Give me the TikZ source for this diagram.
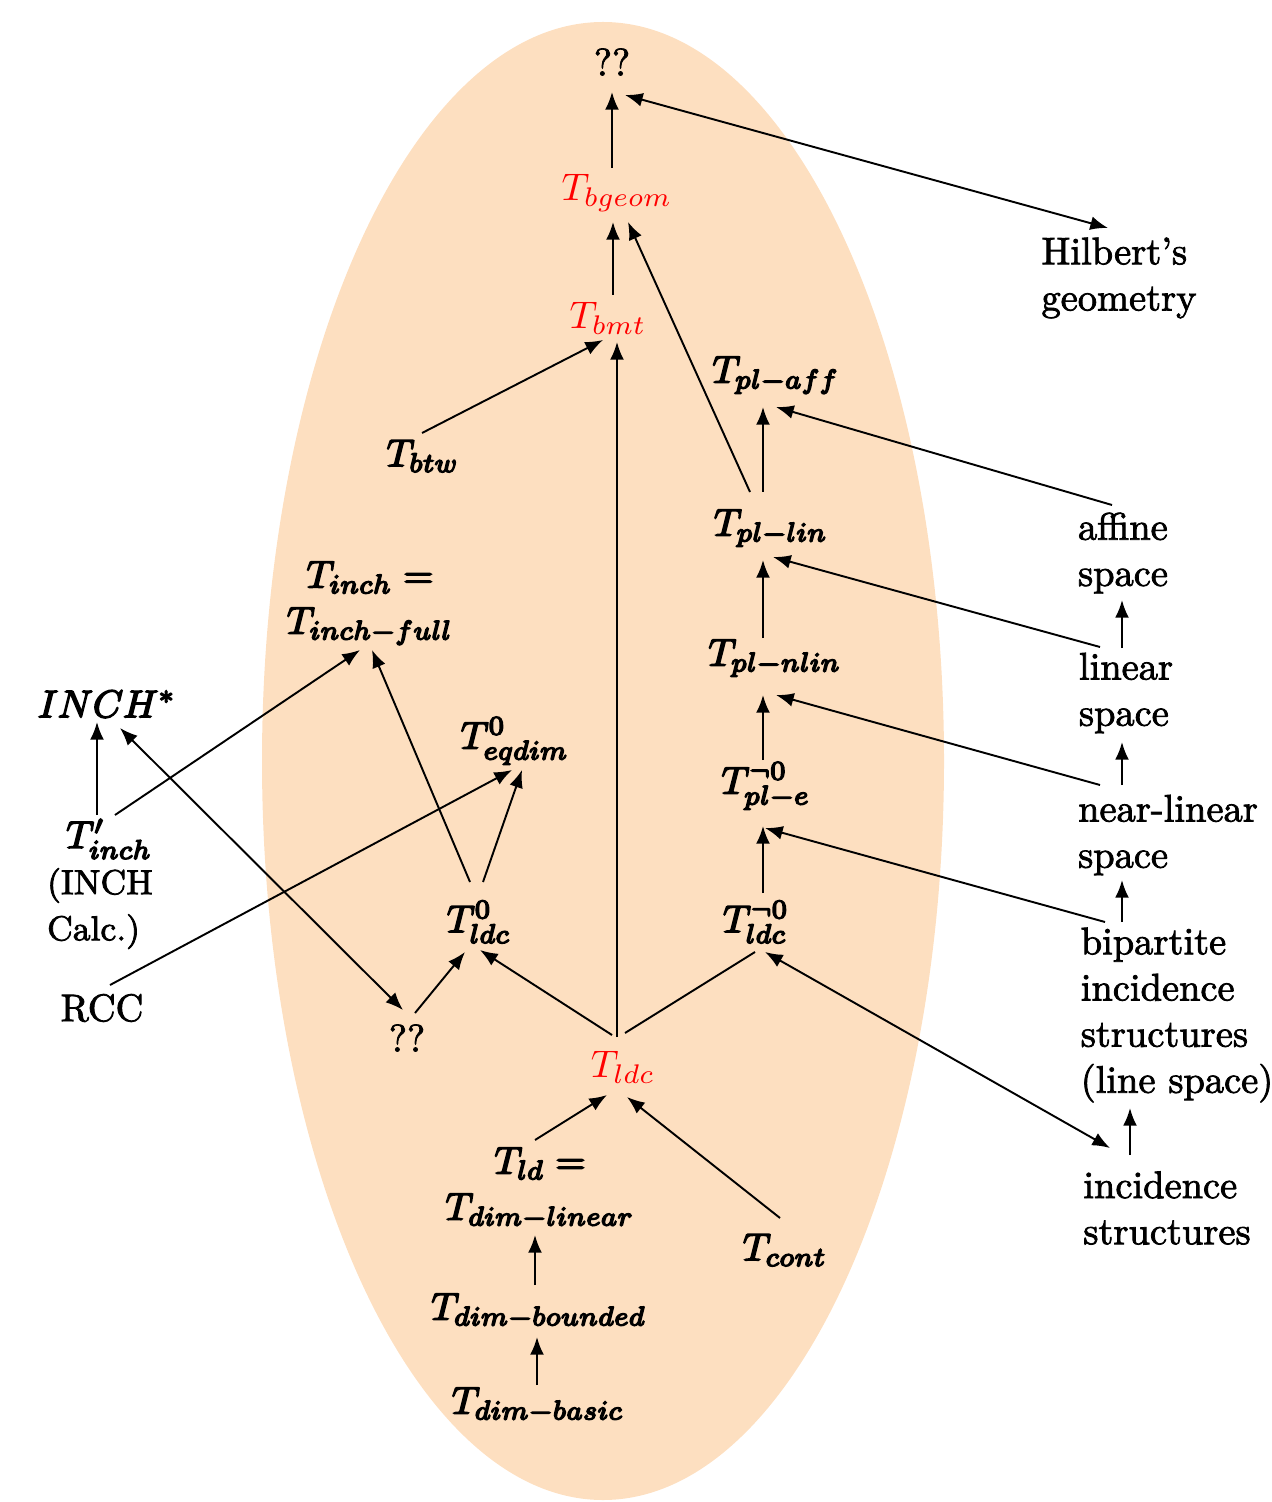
\documentclass[tikz,border=0pt]{standalone}
\usetikzlibrary{arrows.meta,calc}
\definecolor{peach}{RGB}{253,223,192}
% black formulas set with outlined (heavier) glyphs
\newcommand{\hv}[1]{\special{pdf:literal direct 2 Tr 0.4 w}$#1$\special{pdf:literal direct 0 Tr}}
% plain labels with slightly thickened glyphs
\newcommand{\tx}[1]{\special{pdf:literal direct 2 Tr 0.2 w}#1\special{pdf:literal direct 0 Tr}}
\begin{document}
\begin{tikzpicture}[x=0.26pt,y=-0.26pt,
  tip/.tip={Latex[length=4.6pt,width=3.6pt]},
  arr/.style={-tip, line width=0.5pt},
  darr/.style={tip-tip, line width=0.5pt},
  lnk/.style={line width=0.5pt},
  lbl/.style={inner sep=0pt, align=center},
  txt/.style={inner sep=0pt, align=left},
  core/.style={inner sep=0pt, text=red}]
\useasboundingbox (0,0) rectangle (1271,1502);
% background region
\fill[peach] (603,761) ellipse [x radius=341, y radius=739];

% theories and structures
\node[txt] (q1) at (612,62) {\tx{??}};
\node[core] (bgeom) at (617,193) {$T_{bgeom}$};
\node[core] (bmt) at (608,318) {$T_{bmt}$};
\node[txt] (hilbert) at (1119,278) {\tx{Hilbert's\\geometry}};
\node[lbl] (plaff) at (776,375) {\hv{T_{pl-aff}}};
\node[lbl] (btw) at (423,456) {\hv{T_{btw}}};
\node[lbl] (pllin) at (771,528) {\hv{T_{pl-lin}}};
\node[txt] (affine) at (1123,553) {\tx{affine\\space}};
\node[lbl] (inchfull) at (370,603) {\hv{T_{inch}=}\\\hv{T_{inch-full}}};
\node[lbl] (plnlin) at (775,658) {\hv{T_{pl-nlin}}};
\node[txt] (linear) at (1126,693) {\tx{linear\\space}};
\node[lbl] (inchstar) at (107,704) {\hv{INCH^*}};
\node[lbl] (eqdim) at (515,741) {\hv{T^0_{eqdim}}};
\node[lbl] (ple) at (766,786) {\hv{T^{\neg 0}_{pl-e}}};
\node[txt] (nearlin) at (1168,835) {\tx{near-linear\\space}};
\node[txt] (tpinch) at (100,884) {\hspace*{5pt}\hv{T'_{inch}}\\\tx{\small(INCH}\\\tx{\small Calc.)}};
\node[lbl] (ldc0) at (479,922) {\hv{T^0_{ldc}}};
\node[lbl] (ldcn0) at (756,922) {\hv{T^{\neg 0}_{ldc}}};
\node[txt] (rcc) at (102,1008) {\tx{RCC}};
\node[txt] (q2) at (407,1038) {\tx{??}};
\node[txt] (bipart) at (1177,1015) {\tx{bipartite\\incidence\\structures\\(line space)}};
\node[core] (ldc) at (623,1067) {$T_{ldc}$};
\node[lbl] (ld) at (540,1188) {\hv{T_{ld}=}\\\hv{T_{dim-linear}}};
\node[lbl] (cont) at (785,1250) {\hv{T_{cont}}};
\node[txt] (incid) at (1167,1208) {\tx{incidence\\structures}};
\node[lbl] (dimbounded) at (539,1311) {\hv{T_{dim-bounded}}};
\node[lbl] (dimbasic) at (538,1405) {\hv{T_{dim-basic}}};

% connectors
\draw[arr] ($(bgeom)+(-5,-25)$) -- ($(q1)+(0,30)$);
\draw[darr] ($(q1)+(13,33)$) -- ($(hilbert)+(-11,-50)$);
\draw[arr] ($(bmt)+(5,-23)$) -- ($(bgeom)+(-4,29)$);
\draw[arr] ($(pllin)+(-21,-36)$) -- ($(bgeom)+(11,29)$);
\draw[arr] ($(btw)+(-1,-23)$) -- ($(bmt)+(-5,22)$);
\draw[arr] ($(ldc)+(-6,-30)$) -- ($(bmt)+(9,24)$);
\draw[arr] ($(pllin)+(-8,-36)$) -- ($(plaff)+(-13,32)$);
\draw[arr] ($(affine)+(-11,-48)$) -- ($(plaff)+(0,32)$);
\draw[arr] ($(plnlin)+(-12,-20)$) -- ($(pllin)+(-8,32)$);
\draw[arr] ($(linear)+(-26,-46)$) -- ($(pllin)+(2,29)$);
\draw[arr] ($(ple)+(-3,-26)$) -- ($(plnlin)+(-12,37)$);
\draw[arr] ($(nearlin)+(-68,-50)$) -- ($(plnlin)+(1,37)$);
\draw[arr] ($(ldcn0)+(7,-29)$) -- ($(ple)+(-3,40)$);
\draw[arr] ($(bipart)+(-72,-93)$) -- ($(ple)+(-1,42)$);
\draw[lnk] ($(ldc)+(2,-34)$) -- ($(ldcn0)+(-1,30)$);
\draw[darr] ($(ldcn0)+(9,30)$) -- ($(incid)+(-57,-60)$);
\draw[arr] ($(ldc)+(-11,-32)$) -- ($(ldc0)+(1,28)$);
\draw[arr] ($(q2)+(8,-25)$) -- ($(ldc0)+(-14,30)$);
\draw[darr] ($(inchstar)+(13,24)$) -- ($(q2)+(-4,-28)$);
\draw[arr] ($(tpinch)+(-3,-69)$) -- ($(inchstar)+(-10,18)$);
\draw[arr] ($(tpinch)+(15,-69)$) -- ($(inchfull)+(-10,47)$);
\draw[arr] ($(ldc0)+(-9,-40)$) -- ($(inchfull)+(2,47)$);
\draw[arr] ($(ldc0)+(4,-40)$) -- ($(eqdim)+(7,29)$);
\draw[arr] ($(rcc)+(8,-23)$) -- ($(eqdim)+(-3,29)$);
\draw[arr] ($(ld)+(-5,-48)$) -- ($(ldc)+(-16,28)$);
\draw[arr] ($(cont)+(-5,-32)$) -- ($(ldc)+(4,30)$);
\draw[arr] ($(dimbounded)+(-4,-26)$) -- ($(ld)+(-5,47)$);
\draw[arr] ($(dimbasic)+(-1,-20)$) -- ($(dimbounded)+(-2,26)$);
\draw[arr] ($(linear)+(-4,-45)$) -- ($(affine)+(-1,47)$);
\draw[arr] ($(nearlin)+(-46,-50)$) -- ($(linear)+(-4,49)$);
\draw[arr] ($(bipart)+(-55,-93)$) -- ($(nearlin)+(-46,45)$);
\draw[arr] ($(incid)+(-37,-53)$) -- ($(bipart)+(-47,93)$);
\end{tikzpicture}
\end{document}
